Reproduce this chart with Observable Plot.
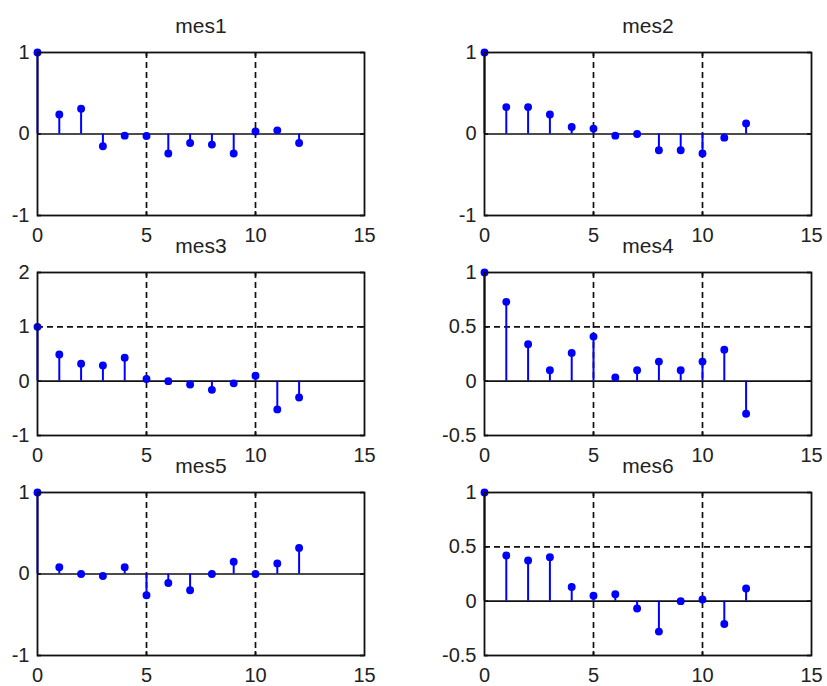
<!DOCTYPE html>
<html>
<head>
<meta charset="utf-8">
<script src="https://cdn.jsdelivr.net/npm/d3@7"></script>
<script src="https://cdn.jsdelivr.net/npm/@observablehq/plot@0.6"></script>
<style>
  html, body { margin: 0; padding: 0; background: #fff; width: 827px; height: 686px; overflow: hidden; }
  #wrap { position: relative; width: 827px; height: 686px; }
  .panel { position: absolute; }
</style>
</head>
<body>
<div id="wrap"></div>
<script>
// ---- data ----
const lags = [0, 1, 2, 3, 4, 5, 6, 7, 8, 9, 10, 11, 12];
const titles = ["mes1", "mes2", "mes3", "mes4", "mes5", "mes6"];
const mes1 = [1, 0.24, 0.31, -0.15, -0.02, -0.025, -0.24, -0.11, -0.13, -0.24, 0.03, 0.045, -0.11];
const mes2 = [1, 0.33, 0.33, 0.24, 0.086, 0.066, -0.02, 0.0, -0.2, -0.2, -0.24, -0.045, 0.13];
const mes3 = [1, 0.49, 0.32, 0.29, 0.43, 0.04, 0.0, -0.06, -0.16, -0.04, 0.1, -0.52, -0.30];
const mes4 = [1, 0.73, 0.34, 0.10, 0.26, 0.41, 0.034, 0.10, 0.18, 0.10, 0.18, 0.29, -0.30];
const mes5 = [1, 0.084, 0.0, -0.024, 0.084, -0.26, -0.11, -0.2, 0.0, 0.15, 0.0, 0.13, 0.32];
const mes6 = [1, 0.42, 0.375, 0.405, 0.13, 0.05, 0.064, -0.067, -0.28, 0.0, 0.015, -0.21, 0.116];
const seriesValues = [mes1, mes2, mes3, mes4, mes5, mes6];
const yDomains = [[-1, 1], [-1, 1], [-1, 2], [-0.5, 1], [-1, 1], [-0.5, 1]];
const yTickSets = [[-1, 0, 1], [-1, 0, 1], [-1, 0, 1, 2], [-0.5, 0, 0.5, 1], [-1, 0, 1], [-0.5, 0, 0.5, 1]];
const xDomain = [0, 15];
const xTicks = [0, 5, 10, 15];

// ---- layout ----
const colLeft = [0, 447];
const rowTop = [7, 227, 447];
const mLeft = 37, mRight = 15, mTop = 45, mBottom = 40;
const plotW = 327, plotH = 163;
const W = mLeft + plotW + mRight, H = mTop + plotH + mBottom;

const wrap = document.getElementById("wrap");
const ink = "#111";
const blue = "#0000ff";

titles.forEach((title, i) => {
  const data = lags.map((lag, j) => ({lag, value: seriesValues[i][j]}));
  const yd = yDomains[i];
  const yt = yTickSets[i];
  const gridY = yt.filter(v => v !== 0 && v !== yd[0] && v !== yd[1]);
  const gridX = xTicks.filter(v => v !== xDomain[0] && v !== xDomain[1]);
  const tickLenY = (yd[1] - yd[0]) * 4 / plotH;
  const tickLenX = (xDomain[1] - xDomain[0]) * 4 / plotW;

  const chart = Plot.plot({
    width: W,
    height: H,
    marginLeft: mLeft,
    marginRight: mRight,
    marginTop: mTop,
    marginBottom: mBottom,
    style: {
      fontFamily: "'Liberation Sans', Arial, Helvetica, sans-serif",
      fontSize: "20px",
      color: "#222",
      background: "transparent",
      overflow: "visible"
    },
    x: {domain: xDomain, ticks: xTicks, tickSize: 0, tickPadding: 12, label: null, tickFormat: d => String(d)},
    y: {domain: yd, ticks: yt, tickSize: 0, tickPadding: 8, label: null, tickFormat: d => String(d)},
    marks: [
      // dashed grid
      Plot.ruleX(gridX, {stroke: ink, strokeWidth: 1.7, strokeDasharray: "6,4"}),
      Plot.ruleY(gridY, {stroke: ink, strokeWidth: 1.7, strokeDasharray: "6,4"}),
      // small inward ticks on the box
      Plot.ruleX(gridX, {y1: yd[1], y2: yd[1] - tickLenY, stroke: ink, strokeWidth: 1.7}),
      Plot.ruleX(gridX, {y1: yd[0], y2: yd[0] + tickLenY, stroke: ink, strokeWidth: 1.7}),
      Plot.ruleY(yt, {x1: xDomain[0], x2: xDomain[0] + tickLenX, stroke: ink, strokeWidth: 1.7}),
      Plot.ruleY(yt, {x1: xDomain[1], x2: xDomain[1] - tickLenX, stroke: ink, strokeWidth: 1.7}),
      // baseline
      Plot.ruleY([0], {stroke: ink, strokeWidth: 1.7}),
      // stems
      Plot.ruleX(data, {x: "lag", y1: 0, y2: "value", stroke: blue, strokeWidth: 2}),
      Plot.dot(data, {x: "lag", y: "value", fill: blue, stroke: blue, r: 3.2}),
      Plot.frame({stroke: ink, strokeWidth: 1.8}),
      Plot.text([title], {frameAnchor: "top", lineAnchor: "bottom", dy: -20, fontSize: 21, fill: "#222"})
    ]
  });
  chart.classList.add("panel");
  chart.style.left = colLeft[i % 2] + "px";
  chart.style.top = rowTop[Math.floor(i / 2)] + "px";
  chart.style.position = "absolute";
  chart.style.maxWidth = "none";
  wrap.appendChild(chart);
});
</script>
</body>
</html>
